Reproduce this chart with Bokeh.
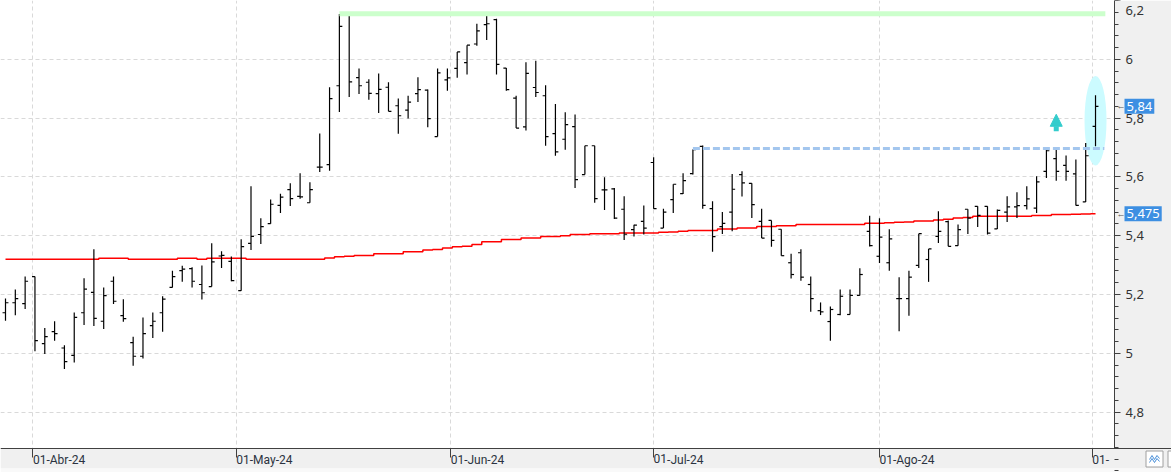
import pandas as pd
from bokeh.plotting import figure
from bokeh.models import (Range1d, FixedTicker, CustomJSTickFormatter, Label,
                          Arrow, NormalHead, ColumnDataSource)
from bokeh.embed import file_html
from bokeh.resources import INLINE

# ---------------- data ----------------
holidays = ["2024-03-29", "2024-04-01", "2024-05-01"]
dates = [d for d in pd.bdate_range("2024-03-26", "2024-09-02")
         if d.strftime("%Y-%m-%d") not in holidays]

opens = [5.138, 5.172, 5.169, 5.261, 5.033, 5.074, 5.018, 4.993, 5.138, 5.207,
         5.109, 5.245, 5.128, 5.036, 4.990, 5.094, 5.138, 5.224, 5.281, 5.288,
         5.234, 5.227, 5.331, 5.313, 5.213, 5.374, 5.404, 5.441, 5.503, 5.557,
         5.534, 5.512, 5.633, 5.642, 5.910, 6.152, 5.938, 5.922, 5.883, 5.905,
         5.842, 5.827, 5.883, 5.895, 5.737, 5.930, 5.969, 5.989, 6.052, 6.118,
         6.135, 5.970, 5.868, 5.770, 5.904, 5.876, 5.747, 5.728, 5.771, 5.608,
         5.706, 5.556, 5.559, 5.490, 5.421, 5.449, 5.649, 5.426, 5.523, 5.543,
         5.611, 5.704, 5.492, 5.431, 5.480, 5.608, 5.578, 5.449, 5.452, 5.422,
         5.308, 5.342, 5.234, 5.145, 5.108, 5.132, 5.132, 5.197, 5.415, 5.330,
         5.308, 5.186, 5.186, 5.299, 5.319, 5.398, 5.448, 5.366, 5.490, 5.500,
         5.500, 5.423, 5.480, 5.498, 5.502, 5.494, 5.619, 5.662, 5.639, 5.610,
         5.515, 5.772]
highs = [5.186, 5.217, 5.261, 5.261, 5.086, 5.109, 5.027, 5.139, 5.255, 5.354,
         5.224, 5.261, 5.184, 5.056, 5.122, 5.139, 5.194, 5.281, 5.298, 5.293,
         5.299, 5.374, 5.347, 5.329, 5.388, 5.568, 5.459, 5.523, 5.543, 5.578,
         5.612, 5.582, 5.748, 5.905, 6.154, 6.154, 5.969, 5.932, 5.952, 5.922,
         5.867, 5.876, 5.939, 5.897, 5.969, 5.969, 6.025, 6.048, 6.121, 6.152,
         6.138, 5.970, 5.876, 5.990, 5.995, 5.912, 5.848, 5.820, 5.812, 5.706,
         5.706, 5.599, 5.562, 5.534, 5.437, 5.503, 5.667, 5.492, 5.575, 5.612,
         5.693, 5.707, 5.517, 5.481, 5.610, 5.619, 5.578, 5.492, 5.452, 5.422,
         5.339, 5.354, 5.261, 5.173, 5.159, 5.217, 5.217, 5.289, 5.468, 5.459,
         5.422, 5.259, 5.281, 5.407, 5.355, 5.483, 5.452, 5.438, 5.490, 5.500,
         5.500, 5.489, 5.534, 5.548, 5.568, 5.602, 5.696, 5.696, 5.673, 5.659,
         5.715, 5.878]
lows = [5.111, 5.129, 5.151, 5.007, 4.998, 5.043, 4.947, 4.969, 5.096, 5.093,
        5.083, 5.168, 5.107, 4.958, 4.982, 5.052, 5.073, 5.224, 5.243, 5.224,
        5.183, 5.227, 5.290, 5.245, 5.213, 5.351, 5.372, 5.441, 5.477, 5.501,
        5.526, 5.512, 5.617, 5.621, 5.821, 5.872, 5.882, 5.862, 5.817, 5.823,
        5.747, 5.799, 5.855, 5.769, 5.737, 5.893, 5.937, 5.948, 6.046, 6.066,
        5.948, 5.893, 5.766, 5.758, 5.872, 5.706, 5.672, 5.692, 5.562, 5.608,
        5.512, 5.487, 5.457, 5.385, 5.397, 5.404, 5.492, 5.426, 5.477, 5.542,
        5.608, 5.492, 5.345, 5.406, 5.415, 5.533, 5.460, 5.392, 5.362, 5.332,
        5.254, 5.247, 5.141, 5.130, 5.043, 5.129, 5.132, 5.197, 5.363, 5.307,
        5.281, 5.075, 5.128, 5.290, 5.243, 5.375, 5.364, 5.366, 5.406, 5.430,
        5.404, 5.423, 5.447, 5.460, 5.489, 5.477, 5.596, 5.587, 5.587, 5.503,
        5.515, 5.704]
closes = [5.172, 5.186, 5.245, 5.043, 5.057, 5.067, 4.972, 5.122, 5.218, 5.119,
          5.196, 5.177, 5.118, 4.990, 5.067, 5.109, 5.184, 5.261, 5.286, 5.245,
          5.206, 5.311, 5.333, 5.247, 5.363, 5.398, 5.431, 5.507, 5.531, 5.526,
          5.532, 5.557, 5.633, 5.866, 6.112, 5.923, 5.910, 5.884, 5.898, 5.823,
          5.808, 5.854, 5.897, 5.798, 5.954, 5.937, 6.025, 6.048, 6.097, 6.121,
          5.983, 5.897, 5.766, 5.952, 5.887, 5.737, 5.685, 5.778, 5.591, 5.706,
          5.526, 5.556, 5.460, 5.405, 5.436, 5.426, 5.492, 5.480, 5.575, 5.587,
          5.693, 5.503, 5.397, 5.442, 5.558, 5.580, 5.506, 5.392, 5.384, 5.332,
          5.268, 5.259, 5.186, 5.141, 5.149, 5.194, 5.197, 5.268, 5.366, 5.395,
          5.389, 5.186, 5.259, 5.407, 5.355, 5.415, 5.364, 5.421, 5.460, 5.469,
          5.409, 5.486, 5.498, 5.502, 5.525, 5.583, 5.689, 5.619, 5.619, 5.503,
          5.672, 5.840]
ma200 = [5.320] * 10 + [5.323] * 3 + [5.320] * 5 + [5.323] * 2 + [5.320] + \
        [5.323] * 4 + [5.320] * 8 + \
        [5.324, 5.328, 5.330, 5.333, 5.333, 5.339, 5.339, 5.339, 5.345, 5.345,
         5.351, 5.353, 5.358, 5.362, 5.364, 5.370, 5.379, 5.379, 5.387, 5.387,
         5.392, 5.392, 5.397, 5.397, 5.400, 5.404, 5.404, 5.407, 5.407, 5.407,
         5.409, 5.409, 5.409, 5.409, 5.412, 5.413, 5.415, 5.418, 5.418, 5.418,
         5.423, 5.423, 5.426, 5.426, 5.431, 5.431, 5.434, 5.434] + \
        [5.438] * 7 + \
        [5.442, 5.442, 5.444, 5.446, 5.447, 5.450, 5.450, 5.453, 5.456, 5.460,
         5.462] + [5.466] * 6 + [5.469, 5.469] + \
        [5.472, 5.472, 5.473, 5.474, 5.475]

month_starts = ["2024-04-01", "2024-05-01", "2024-06-01", "2024-07-01",
                "2024-08-01", "2024-09-01"]
month_labels = ["01-Abr-24", "01-May-24", "01-Jun-24", "01-Jul-24",
                "01-Ago-24", "01-"]
y_ticks = [4.8, 5.0, 5.2, 5.4, 5.6, 5.8, 6.0, 6.2]

resistance_level = 6.155   # green line
resistance_from = 34
breakout_level = 5.697     # blue dashed line
breakout_from = 70
signal_bar = 107           # teal arrow
signal_y = [5.755, 5.813]
last_price_label = "5,84"
ma_label = "5,475"

# ---------------- layout helpers ----------------
idx = list(range(len(dates)))
n = len(idx)
W, H = 1171, 472
PLOT_W, PLOT_H = 1114, 448   # px where the price / time scales sit
PX = 9.82                    # px per trading day
PY = 294.0                   # px per price unit
X0 = -5 / PX
X1 = X0 + W / PX
Y1 = 6.2


def dx(px):
    return X0 + px / PX


def dy(py):
    return Y1 - py / PY


AXIS_X = dx(PLOT_W)
AXIS_Y = dy(PLOT_H)
YB = dy(H)


def month_pos(ms):
    ms = pd.Timestamp(ms)
    k = next(i for i, d in enumerate(dates) if d >= ms)
    if dates[k] == ms or k == 0:
        return float(k)
    prev = dates[k - 1]
    return (k - 1) + (ms - prev).days / (dates[k] - prev).days


tick_pos = [month_pos(m) for m in month_starts]

p = figure(width=W, height=H, x_range=Range1d(X0, X1), y_range=Range1d(YB, Y1),
           y_axis_location="right", output_backend="svg", toolbar_location=None,
           min_border_left=0, min_border_top=0, min_border_right=0,
           min_border_bottom=0)
p.outline_line_color = None
p.background_fill_color = "white"
p.border_fill_color = "#f0f0f0"

# ---- x axis (time scale): month ticks, labels starting at the tick ----
xax = p.xaxis[0]
xax.fixed_location = AXIS_Y
xax.ticker = FixedTicker(ticks=tick_pos, minor_ticks=[])
xax.formatter = CustomJSTickFormatter(
    code="const labs = %s; return labs[index];" % str(month_labels).replace("'", '"'))
xax.major_label_orientation = -1e-6      # numeric orientation -> left-anchored labels
xax.major_tick_in = 0
xax.major_tick_out = 9
xax.major_label_standoff = 2
xax.axis_line_color = "#404040"
xax.major_tick_line_color = "#404040"
xax.major_label_text_font = "Roboto"
xax.major_label_text_font_size = "12px"
xax.major_label_text_color = "#2b3340"

# ---- y axis (price scale) ----
minor = [round(4.6 + 0.04 * k, 2) for k in range(45)]
yax = p.yaxis[0]
yax.fixed_location = AXIS_X
yax.bounds = (AXIS_Y, Y1)
yax.ticker = FixedTicker(ticks=y_ticks, minor_ticks=minor)
yax.formatter = CustomJSTickFormatter(
    code="if (index == ticks.length - 1) return '';"
         "return (Math.round(tick*10)/10).toString().replace('.', ',');")
yax.major_tick_in = 0
yax.major_tick_out = 6
yax.minor_tick_in = 0
yax.minor_tick_out = 4
yax.major_label_standoff = 5
yax.axis_line_color = "#404040"
yax.major_tick_line_color = "#404040"
yax.minor_tick_line_color = "#404040"
yax.major_label_text_font = "Noto Sans"
yax.major_label_text_font_size = "13px"
yax.major_label_text_color = "#333333"

# topmost price label, moved just inside the top edge
p.add_layout(Label(x=AXIS_X, y=y_ticks[-1], x_offset=11, y_offset=-10,
                   text=str(y_ticks[-1]).replace(".", ","), text_font="Noto Sans",
                   text_font_size="13px", text_color="#333333", text_baseline="middle"))

for g in (p.xgrid, p.ygrid):
    g.grid_line_color = "#d9d9d9"
    g.grid_line_dash = "4 3"
    g.grid_line_width = 1

# scale panels' background (cover the grid there)
p.quad(left=[AXIS_X], right=[X1], bottom=[AXIS_Y], top=[Y1],
       fill_color="#f0f0f0", line_color=None)
p.quad(left=[X0], right=[X1], bottom=[dy(468)], top=[AXIS_Y],
       fill_color="#f0f0f0", line_color=None)
p.quad(left=[X0], right=[X1], bottom=[YB], top=[dy(468)],
       fill_color="#f9f9f9", line_color=None)
# chart-type buttons in the corner
p.quad(left=[dx(1145.5), dx(1167.5)], right=[dx(1162.5), dx(1180)],
       bottom=[dy(466.5), dy(466.5)], top=[dy(450.5), dy(450.5)],
       fill_color="white", line_color="#a0a0a0", line_width=1)
p.multi_line(xs=[[dx(1149), dx(1151.5), dx(1154), dx(1156.5), dx(1159)],
                 [dx(1149), dx(1151.5), dx(1154), dx(1156.5), dx(1159)]],
             ys=[[dy(459), dy(455), dy(459), dy(455), dy(458)],
                 [dy(462), dy(458), dy(462), dy(458), dy(461)]],
             line_color="#4a90d9", line_width=1)

# highlight ellipse around last bar
p.ellipse(x=[idx[-1]], y=[(highs[-1] + lows[-1]) / 2], width=22 / PX,
          height=(highs[-1] - lows[-1]) * 1.75, fill_color="#ccfbff",
          line_color=None)

# moving average
p.step(idx, ma200, mode="center", line_color="#ff0000", line_width=1.5)

# OHLC bars
src = ColumnDataSource(dict(x=idx, xl=[i - 0.3 for i in idx], xr=[i + 0.3 for i in idx],
                            o=opens, h=highs, l=lows, c=closes))
p.segment(x0="x", y0="l", x1="x", y1="h", source=src, line_color="black", line_width=1.2)
p.segment(x0="xl", y0="o", x1="x", y1="o", source=src, line_color="black", line_width=1.2)
p.segment(x0="x", y0="c", x1="xr", y1="c", source=src, line_color="black", line_width=1.2)

# levels
p.segment(x0=[resistance_from], y0=[resistance_level], x1=[n], y1=[resistance_level],
          line_color="#ccffcc", line_width=5)
p.segment(x0=[breakout_from], y0=[breakout_level], x1=[n - 0.1], y1=[breakout_level],
          line_color="#a3c6ee", line_width=3, line_dash="7 3")

# signal arrow
teal = "#33cccc"
p.add_layout(Arrow(end=NormalHead(size=12, fill_color=teal, line_color=teal),
                   x_start=signal_bar, y_start=signal_y[0],
                   x_end=signal_bar, y_end=signal_y[1],
                   line_color=teal, line_width=5))

# price labels on the scale
for val, txt in ((closes[-1], last_price_label), (ma200[-1], ma_label)):
    p.add_layout(Label(x=AXIS_X, y=val, x_offset=10, text=txt, text_color="white",
                       text_font="Noto Sans", text_font_size="13px",
                       text_baseline="middle", background_fill_color="#3d8fe2",
                       padding=dict(left=2, right=2, top=3, bottom=3)))
    p.add_layout(Label(x=AXIS_X, y=val, x_offset=2, text="←", text_color="#555555",
                       text_font_size="9px", text_baseline="middle"))

open("out.html", "w").write(file_html(p, INLINE))
